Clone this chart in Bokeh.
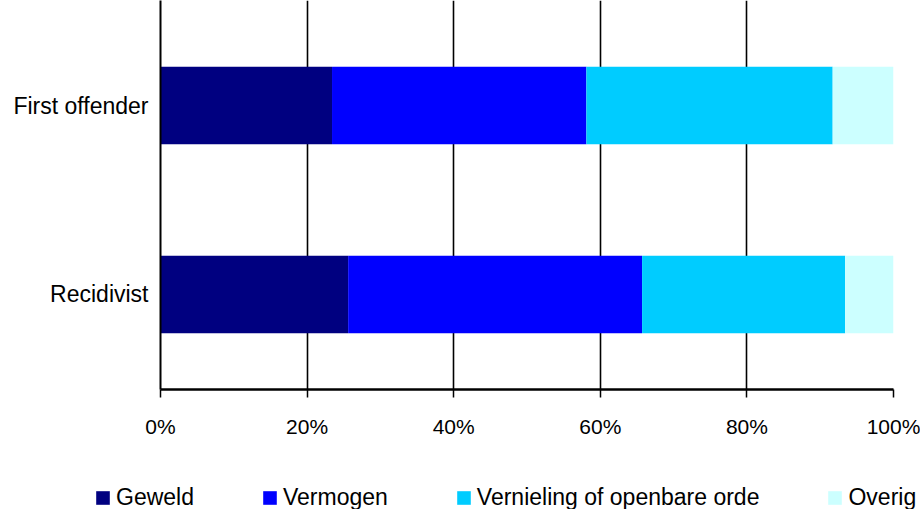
from bokeh.plotting import figure
from bokeh.models import ColumnDataSource, FixedTicker, PrintfTickFormatter, Legend, LegendItem, Range1d
from bokeh.embed import file_html
from bokeh.resources import INLINE

categories = ["Recidivist", "First offender"]
series = ["Geweld", "Vermogen", "Vernieling of openbare orde", "Overig"]
geweld = [25.6, 23.4]
vermogen = [40.1, 34.7]
vernieling = [27.7, 33.6]
overig = [6.6, 8.3]
colors = ["#000080", "#0000FF", "#00CCFF", "#CCFFFF"]
x_ticks = [0, 20, 40, 60, 80, 100]

ypos = list(range(1, len(categories) + 1))
source = ColumnDataSource(dict(y=ypos, g=geweld, v=vermogen, o=vernieling, r=overig))
stack_cols = ["g", "v", "o", "r"]

FONT = "Liberation Sans"

p = figure(width=920, height=449, output_backend="svg", toolbar_location=None,
           x_range=Range1d(0, 100), y_range=Range1d(0.497, 2.556),
           min_border_left=160, min_border_right=27, min_border_top=0, min_border_bottom=60)
p.outline_line_color = None
p.background_fill_color = "white"

rs = p.hbar_stack(stack_cols, y="y", height=0.41, color=colors, source=source, line_width=0)

# grid
p.ygrid.grid_line_color = None
p.xgrid.ticker = FixedTicker(ticks=x_ticks)
p.xgrid.grid_line_color = "black"
p.xgrid.grid_line_width = 1.6
p.xgrid.level = "underlay"

# x axis
p.xaxis.ticker = FixedTicker(ticks=x_ticks)
p.xaxis.formatter = PrintfTickFormatter(format="%d%%")
p.xaxis.axis_line_width = 2.5
p.xaxis.axis_line_color = "black"
p.xaxis.major_tick_in = 0
p.xaxis.major_tick_out = 8
p.xaxis.major_tick_line_width = 1.5
p.xaxis.minor_tick_line_color = None
p.xaxis.major_label_standoff = 17
p.xaxis.major_label_text_font = FONT
p.xaxis.major_label_text_font_size = "21px"
p.xaxis.major_label_text_color = "black"

# y axis
p.yaxis.ticker = FixedTicker(ticks=ypos)
p.yaxis.major_label_overrides = {y: c for y, c in zip(ypos, categories)}
p.yaxis.axis_line_width = 2
p.yaxis.axis_line_color = "black"
p.yaxis.major_tick_in = 0
p.yaxis.major_tick_out = 0
p.yaxis.major_tick_line_color = None
p.yaxis.minor_tick_line_color = None
p.yaxis.major_label_standoff = 12
p.yaxis.major_label_text_font = FONT
p.yaxis.major_label_text_font_size = "23px"
p.yaxis.major_label_text_color = "black"

# legend strip below the chart (separate root so it can span the full width)
pl = figure(width=920, height=60, output_backend="svg", toolbar_location=None,
            x_range=Range1d(0, 100), y_range=Range1d(0.497, 2.556),
            x_axis_location=None, y_axis_location=None, min_border=0)
pl.outline_line_color = None
pl.grid.visible = False
swatches = pl.hbar_stack(stack_cols, y="y", height=0.41, color=colors, source=source,
                         line_width=0, visible=False)

legend = Legend(items=[LegendItem(label=s, renderers=[r]) for s, r in zip(series, swatches)],
                orientation="horizontal", location=(94, -2),
                label_text_font=FONT, label_text_font_size="23px",
                label_text_color="black", glyph_width=17, glyph_height=17,
                label_standoff=5, spacing=67, padding=0, margin=0,
                border_line_color=None, background_fill_alpha=0,
                inactive_fill_alpha=0)
pl.add_layout(legend, "center")

open("out.html", "w").write(file_html([p, pl], INLINE))
